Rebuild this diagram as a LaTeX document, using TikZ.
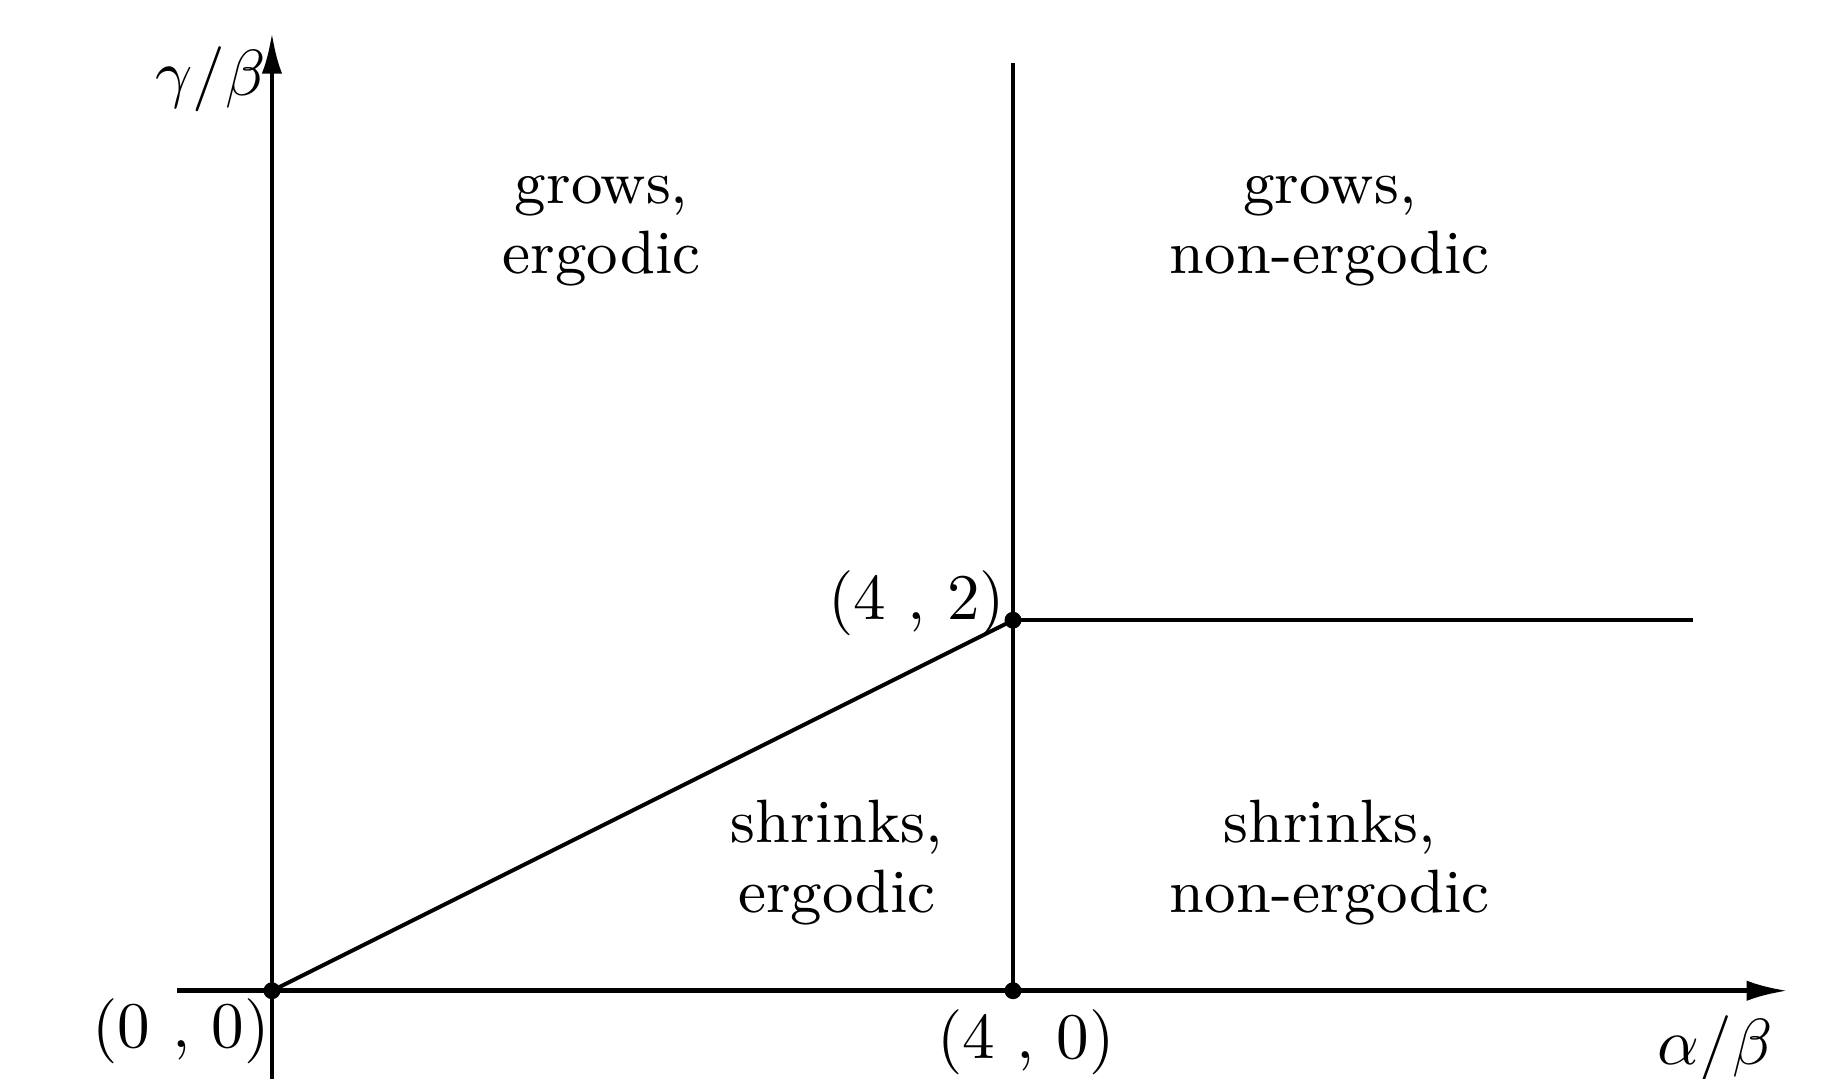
\documentclass[tikz,border=0pt]{standalone}
\usetikzlibrary{arrows.meta}

\begin{document}
\begin{tikzpicture}[x=1cm,y=1cm,
    axis/.style={line width=0.7pt,-{Latex[length=2.2mm,width=1.1mm]}},
    bound/.style={line width=0.7pt},
    pt/.style={circle,fill,inner sep=0pt,minimum size=2.6pt},
    region/.style={align=center,font=\fontsize{9.4}{10.8}\selectfont}]
    \useasboundingbox (-1.468,-0.474) rectangle (8.405,5.348);

    \node[pt] (O)   at (0,0) {};
    \node[pt] (P40) at (4,0) {};
    \node[pt] (P42) at (4,2) {};
    \coordinate (xs) at (-0.51,0);
    \coordinate (xe) at (8.18,0);
    \coordinate (ys) at (0,-0.474);
    \coordinate (ye) at (0,5.17);
    \coordinate (ve) at (4,5.01);
    \coordinate (he) at (7.67,2);

    \draw[axis] (xs) -- (xe);
    \draw[axis] (ys) -- (ye);
    \draw[bound] (P40.center) -- (ve);
    \draw[bound] (P42.center) -- (he);
    \draw[line width=0.6pt] (O.center) -- (P42.center);

    \node (ylab) at (-0.33,4.92) {$\gamma/\beta$};
    \node (xlab) at (7.79,-0.31) {$\alpha/\beta$};
    \node (l00) at (-0.49,-0.22) {(0 , 0)};
    \node (l40) at (4.07,-0.28) {(4 , 0)};
    \node (l42) at (3.48,2.09) {(4 , 2)};

    \node[region] (ge) at (1.78,4.10) {grows,\\ergodic};
    \node[region] (gn) at (5.71,4.10) {grows,\\non-ergodic};
    \node[region] (se) at (3.05,0.69) {shrinks,\\ergodic};
    \node[region] (sn) at (5.71,0.69) {shrinks,\\non-ergodic};
\end{tikzpicture}
\end{document}
